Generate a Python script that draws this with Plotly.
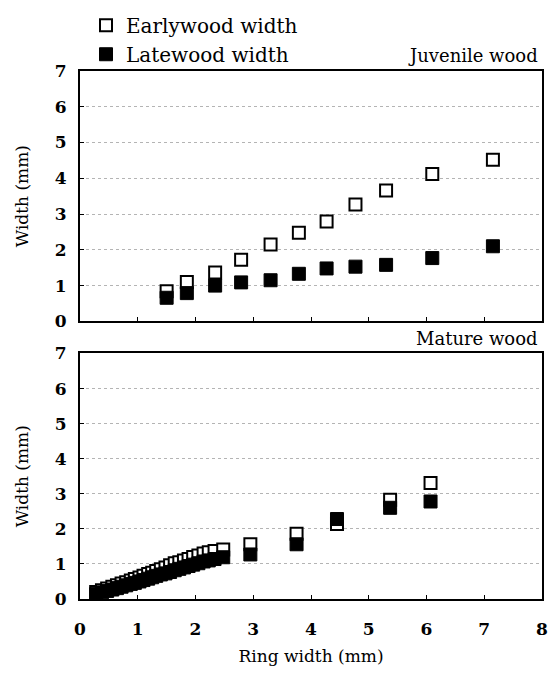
import plotly.graph_objects as go

# Juvenile wood: ring width vs earlywood / latewood width (mm)
juv_ring = [1.5, 1.85, 2.34, 2.79, 3.3, 3.79, 4.27, 4.77, 5.3, 6.1, 7.15]
juv_early = [0.84, 1.1, 1.37, 1.72, 2.15, 2.48, 2.79, 3.27, 3.66, 4.12, 4.52]
juv_late = [0.66, 0.79, 1.0, 1.09, 1.15, 1.33, 1.48, 1.53, 1.58, 1.77, 2.1]

# Mature wood
mat_ring = [0.28, 0.38, 0.47, 0.56, 0.64, 0.72, 0.8, 0.88, 0.95, 1.03, 1.1, 1.18,
            1.25, 1.32, 1.4, 1.48, 1.56, 1.64, 1.72, 1.8, 1.88, 1.96, 2.05, 2.14,
            2.23, 2.33, 2.48, 2.95, 3.75, 4.45, 5.37, 6.07]
mat_early = [0.2, 0.25, 0.3, 0.35, 0.39, 0.44, 0.48, 0.53, 0.57, 0.61, 0.66, 0.71,
             0.75, 0.8, 0.85, 0.9, 0.96, 1.02, 1.05, 1.1, 1.14, 1.2, 1.24, 1.3,
             1.33, 1.37, 1.41, 1.56, 1.86, 2.14, 2.83, 3.31]
mat_late = [0.14, 0.19, 0.23, 0.27, 0.31, 0.35, 0.39, 0.43, 0.46, 0.5, 0.54, 0.58,
            0.62, 0.66, 0.7, 0.73, 0.77, 0.82, 0.86, 0.9, 0.94, 0.98, 1.02, 1.07,
            1.1, 1.14, 1.19, 1.27, 1.56, 2.28, 2.6, 2.78]

x_ticks = [0, 1, 2, 3, 4, 5, 6, 7, 8]
y_ticks = [0, 1, 2, 3, 4, 5, 6, 7]

FONT = "DejaVu Serif"
open_marker = dict(symbol="square", size=12, color="white", line=dict(color="black", width=2))
solid_marker = dict(symbol="square", size=13, color="black", line=dict(color="black", width=1))

fig = go.Figure()
fig.add_trace(go.Scatter(x=juv_ring, y=juv_early, mode="markers", name="Earlywood width",
                         marker=open_marker, xaxis="x", yaxis="y"))
fig.add_trace(go.Scatter(x=juv_ring, y=juv_late, mode="markers", name="Latewood width",
                         marker=solid_marker, xaxis="x", yaxis="y"))
fig.add_trace(go.Scatter(x=mat_ring, y=mat_early, mode="markers", name="Earlywood width",
                         marker=open_marker, xaxis="x2", yaxis="y2", showlegend=False))
fig.add_trace(go.Scatter(x=mat_ring, y=mat_late, mode="markers", name="Latewood width",
                         marker=solid_marker, xaxis="x2", yaxis="y2", showlegend=False))

tick_font = dict(family=FONT, size=17, color="black", weight="bold")
title_font = dict(family=FONT, size=17, color="black")

axis_common = dict(range=[0, 8], tickvals=x_ticks, showline=True, linecolor="black",
                   linewidth=2, mirror=True, ticks="inside", ticklen=4, tickwidth=1,
                   tickcolor="black", showgrid=False, zeroline=False)
yaxis_common = dict(range=[0, 7], tickvals=y_ticks, showline=True, linecolor="black",
                    linewidth=2, mirror=True, ticks="inside", ticklen=4, tickwidth=1,
                    tickcolor="black", showgrid=True, gridcolor="#b4b4b4", griddash="dot",
                    gridwidth=1, zeroline=False, ticklabelstandoff=8, tickfont=tick_font,
                    title=dict(text="Width (mm)", standoff=22, font=title_font))

fig.update_layout(
    width=554, height=675,
    margin=dict(l=80, r=6, t=57, b=76),
    paper_bgcolor="white", plot_bgcolor="white",
    xaxis=dict(axis_common, domain=[0, 1], anchor="y", showticklabels=False),
    yaxis=dict(yaxis_common, domain=[0.5258, 1], anchor="x"),
    xaxis2=dict(axis_common, domain=[0, 1], anchor="y2", tickfont=tick_font,
                ticklabelstandoff=14,
                title=dict(text="Ring width (mm)", standoff=12, font=title_font)),
    yaxis2=dict(yaxis_common, domain=[0, 0.465], anchor="x2"),
    legend=dict(x=0.013, y=1.1236, xanchor="left", yanchor="top",
                font=dict(family=FONT, size=20, color="black"),
                bgcolor="rgba(0,0,0,0)", itemwidth=30, tracegroupgap=0),
    showlegend=True,
    annotations=[
        dict(text="Juvenile wood", x=0.996, y=1.0, xref="paper", yref="paper",
             xanchor="right", yanchor="bottom", showarrow=False, yshift=3,
             font=dict(family=FONT, size=18, color="black")),
        dict(text="Mature wood", x=0.996, y=0.465, xref="paper", yref="paper",
             xanchor="right", yanchor="bottom", showarrow=False, yshift=2,
             font=dict(family=FONT, size=18, color="black")),
    ],
)

fig.write_html("out.html")
